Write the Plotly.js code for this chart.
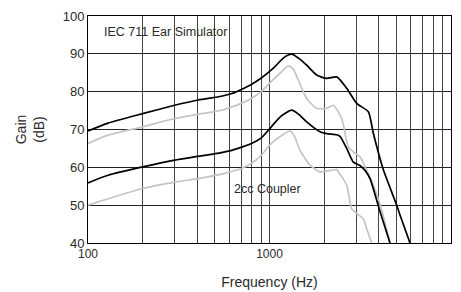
<!DOCTYPE html>
<html>
<head>
<meta charset="utf-8">
<script src="https://cdn.plot.ly/plotly-3.0.1.min.js"></script>
<style>html,body{margin:0;padding:0;background:#fff;}#chart{width:461px;height:292px;}</style>
</head>
<body>
<div id="chart"></div>
<script>
// Frequency (Hz) and gain (dB)
var earBlackFreq = [100, 129, 200, 300, 404, 543, 620, 700, 794, 901, 1050, 1200, 1325, 1450, 1603, 1820, 2066, 2345, 2663, 3022, 3503, 3733, 4236, 5020, 5236, 5945];
var earBlackGain = [69.6, 71.7, 74.2, 76.4, 77.8, 78.8, 79.5, 80.6, 81.9, 83.6, 86.2, 89.0, 89.9, 88.8, 87.0, 84.4, 83.5, 83.9, 80.9, 76.9, 74.7, 69.0, 59.4, 50.0, 47.4, 40.0];

var earGrayFreq = [100, 129, 200, 300, 404, 543, 700, 794, 901, 1023, 1150, 1269, 1350, 1441, 1603, 1820, 2066, 2246, 2500, 2719, 2895, 3152, 3432, 3733, 4063, 4612];
var earGrayGain = [66.3, 68.5, 70.7, 72.9, 74.0, 75.1, 76.9, 78.2, 80.0, 82.7, 85.0, 86.8, 86.0, 83.1, 78.2, 75.6, 75.6, 76.4, 72.9, 65.4, 64.1, 62.8, 59.2, 55.3, 50.3, 40.0];

var cplBlackFreq = [100, 129, 200, 300, 404, 543, 620, 671, 794, 901, 1023, 1150, 1325, 1450, 1603, 1897, 2066, 2345, 2446, 2663, 2895, 3152, 3359, 3579, 4063, 4612];
var cplBlackGain = [55.9, 57.9, 60.1, 61.9, 62.9, 63.9, 64.5, 65.0, 66.3, 67.8, 70.7, 73.4, 75.1, 74.0, 72.0, 69.4, 68.9, 68.6, 68.2, 65.0, 61.4, 60.5, 59.2, 57.0, 48.3, 40.0];

var cplGrayFreq = [100, 129, 200, 300, 404, 543, 700, 794, 901, 1023, 1150, 1297, 1380, 1472, 1672, 1897, 2154, 2345, 2446, 2663, 2837, 3022, 3287, 3432, 3658];
var cplGrayGain = [50.0, 51.7, 54.4, 56.1, 57.0, 58.2, 59.7, 61.0, 63.2, 66.3, 68.2, 69.6, 68.0, 64.5, 60.6, 58.8, 59.2, 59.4, 58.2, 55.3, 49.1, 47.8, 46.4, 43.8, 40.0];

var xTickVals = [100,200,300,400,500,600,700,800,900,1000,2000,3000,4000,5000,6000,7000,8000,9000,10000];
var xTickText = ['100','','','','','','','','','1000','','','','','','','','','10000'];
var yTickVals = [40,50,60,70,80,90,100];

function tr(x, y, color) {
  return {x: x, y: y, type: 'scatter', mode: 'lines',
    line: {color: color, width: 1.7, shape: 'spline', smoothing: 0.6},
    hoverinfo: 'skip', showlegend: false, cliponaxis: true};
}
var data = [
  tr(earGrayFreq, earGrayGain, '#c4c4c4'),
  tr(cplGrayFreq, cplGrayGain, '#c4c4c4'),
  tr(earBlackFreq, earBlackGain, '#000000'),
  tr(cplBlackFreq, cplBlackGain, '#000000')
];
var font = {family: '"Liberation Sans", Arial, sans-serif', size: 12, color: '#2a2a2a'};
var layout = {
  width: 461, height: 292,
  margin: {l: 88, r: 10, t: 16, b: 49, pad: 0},
  paper_bgcolor: '#fff', plot_bgcolor: '#fff',
  font: font,
  xaxis: {type: 'log', range: [2, 4], tickmode: 'array', tickvals: xTickVals, ticktext: xTickText,
    showgrid: true, gridcolor: '#444', gridwidth: 1, showline: true, linecolor: '#000', linewidth: 1,
    mirror: true, ticks: '', zeroline: false, tickfont: {size: 12, color: '#2a2a2a'},
    title: {text: 'Frequency (Hz)', font: {size: 14, color: '#2a2a2a'}, standoff: 16}},
  yaxis: {range: [40, 100], tickmode: 'array', tickvals: yTickVals,
    showgrid: true, gridcolor: '#222', gridwidth: 1, showline: true, linecolor: '#000', linewidth: 1,
    mirror: true, ticks: '', zeroline: false, tickfont: {size: 13, color: '#2a2a2a'},
    title: {text: 'Gain<br>(dB)', font: {size: 14, color: '#2a2a2a'}, standoff: 14}},
  annotations: [
    {text: 'IEC 711 Ear Simulator', xref: 'x', yref: 'y', x: Math.log10(119), y: 95.8, xanchor: 'left', yanchor: 'middle',
      showarrow: false, font: {size: 12.5, color: '#2a2a2a'}},
    {text: '2cc Coupler', xref: 'x', yref: 'y', x: Math.log10(620), y: 54.3, xanchor: 'left', yanchor: 'middle',
      showarrow: false, font: {size: 12.5, color: '#2a2a2a'}}
  ]
};
Plotly.newPlot('chart', data, layout, {staticPlot: true, displayModeBar: false});
</script>
</body>
</html>
